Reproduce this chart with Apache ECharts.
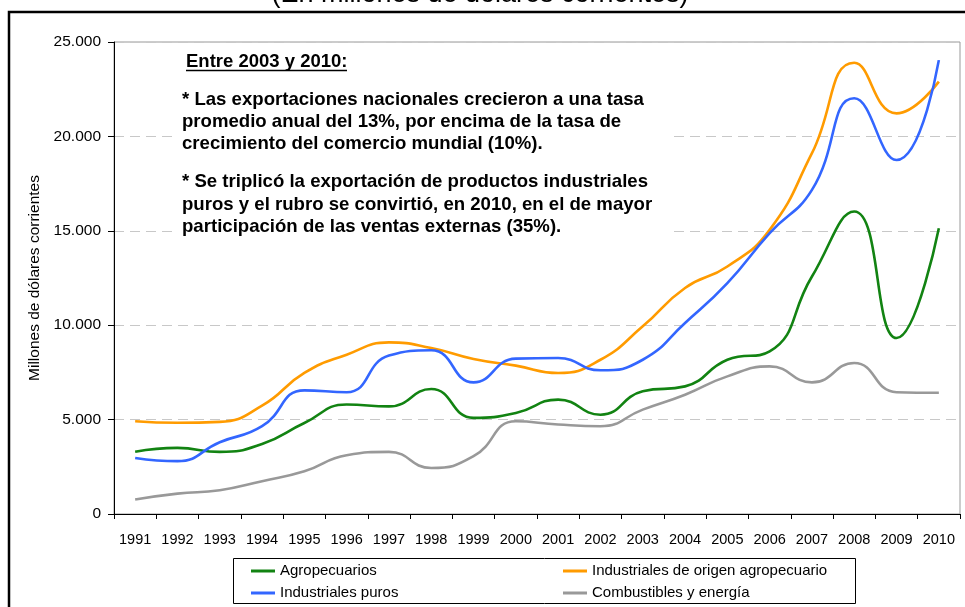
<!DOCTYPE html>
<html>
<head>
<meta charset="utf-8">
<script src="https://cdn.jsdelivr.net/npm/echarts@6/dist/echarts.min.js"></script>
<style>
    html, body { margin: 0; padding: 0; background: #fff; }
    #chart { width: 965px; height: 607px; }
</style>
</head>
<body>
<div id="chart"></div>
<script>
// años y exportaciones por rubro (millones de dólares corrientes)
let years = ['1991', '1992', '1993', '1994', '1995', '1996', '1997', '1998', '1999', '2000',
    '2001', '2002', '2003', '2004', '2005', '2006', '2007', '2008', '2009', '2010'];
let agropecuarios = [3300, 3500, 3290, 3710, 4820, 5800, 5700, 6620, 5090, 5350,
    6060, 5260, 6500, 6760, 8170, 8610, 12580, 16020, 9320, 15140];
let industrialesAgro = [4910, 4830, 4880, 5740, 7470, 8440, 9090, 8790, 8210, 7860,
    7470, 8170, 9940, 11970, 13110, 15050, 19110, 23900, 21220, 22900];
let industrialesPuros = [2970, 2800, 3800, 4650, 6550, 6450, 8390, 8670, 6970, 8230,
    8260, 7610, 8170, 10120, 12230, 14880, 17170, 22020, 18750, 24040];
let combustibles = [770, 1080, 1260, 1740, 2260, 3110, 3290, 2440, 3060, 4910,
    4740, 4650, 5530, 6320, 7290, 7820, 6970, 8000, 6450, 6420];
let yTicks = [0, 5000, 10000, 15000, 20000, 25000];

let font = "'Liberation Sans', Arial, sans-serif";
let notes = [
    {text: '* Las exportaciones nacionales crecieron a una tasa', y: 100},
    {text: 'promedio anual del 13%, por encima de la tasa de', y: 122},
    {text: 'crecimiento del comercio mundial (10%).', y: 144},
    {text: '* Se triplicó la exportación de productos industriales', y: 182},
    {text: 'puros y el rubro se convirtió, en 2010, en el de mayor', y: 205},
    {text: 'participación de las ventas externas (35%).', y: 227}
];

function fmt(v) {
    return String(v).replace(/\B(?=(\d{3})+(?!\d))/g, '.');
}

let chart = echarts.init(document.getElementById('chart'));

let graphics = [
    // marco exterior
    {type: 'rect', shape: {x: 9, y: 12, width: 980, height: 620},
        style: {fill: 'none', stroke: '#000', lineWidth: 2.5}, z: 10},
    {type: 'text', x: 480, y: 8, z: 10,
        style: {text: '(En millones de dólares corrientes)', font: '27px ' + font,
            fill: '#000', align: 'center', verticalAlign: 'bottom'}},
    // fondo blanco del cuadro de texto
    {type: 'rect', shape: {x: 178, y: 47, width: 494, height: 195},
        style: {fill: '#fff'}, z: 1},
    {type: 'text', x: 186, y: 62, z: 5,
        style: {text: 'Entre 2003 y 2010:', font: 'bold 18.5px ' + font,
            fill: '#000', verticalAlign: 'middle'}},
    {type: 'line', shape: {x1: 186, y1: 70.5, x2: 347, y2: 70.5}, z: 5,
        style: {stroke: '#000', lineWidth: 1.6}},
    // recuadro de la leyenda
    {type: 'rect', shape: {x: 233.5, y: 558.5, width: 622, height: 45},
        style: {fill: 'none', stroke: '#000', lineWidth: 1}, z: 1}
];
notes.forEach(n => {
    graphics.push({type: 'text', x: 182, y: n.y, z: 5,
        style: {text: n.text, font: 'bold 18.6px ' + font, fill: '#000', verticalAlign: 'middle'}});
});

let legendCommon = {
    orient: 'vertical',
    padding: 0,
    itemGap: 0,
    itemWidth: 24,
    itemHeight: 3,
    icon: 'rect',
    top: 560,
    textStyle: {fontFamily: font, fontSize: 15, color: '#000', lineHeight: 22}
};

function lineSeries(name, data, color) {
    return {
        name: name,
        type: 'line',
        data: data,
        smooth: 0.5,
        symbol: 'none',
        lineStyle: {width: 2.6, color: color},
        itemStyle: {color: color},
        z: 3
    };
}

let option = {
    backgroundColor: '#fff',
    animation: false,
    grid: {
        left: 114, right: 5, top: 42, bottom: 93,
        show: true, borderColor: '#999', borderWidth: 1
    },
    legend: [
        Object.assign({}, legendCommon, {left: 251, data: ['Agropecuarios', 'Industriales puros']}),
        Object.assign({}, legendCommon, {left: 563, data: ['Industriales de origen agropecuario', 'Combustibles y energía']})
    ],
    xAxis: {
        type: 'category',
        data: years,
        boundaryGap: true,
        axisLine: {lineStyle: {color: '#000', width: 1}},
        axisTick: {show: true, length: 5, interval: 0, lineStyle: {color: '#000'}},
        axisLabel: {interval: 0, margin: 18, color: '#000', fontSize: 14.5, fontFamily: font}
    },
    yAxis: {
        type: 'value',
        min: yTicks[0],
        max: yTicks[yTicks.length - 1],
        interval: 5000,
        name: 'Millones de dólares corrientes',
        nameLocation: 'middle',
        nameGap: 68,
        nameTextStyle: {color: '#000', fontSize: 15.5, fontFamily: font},
        axisLine: {show: true, lineStyle: {color: '#000', width: 1}},
        axisTick: {show: true, length: 6, lineStyle: {color: '#000'}},
        axisLabel: {margin: 13, color: '#000', fontSize: 15.5, fontFamily: font, formatter: fmt},
        splitLine: {show: true, lineStyle: {color: '#c8c8c8', type: [10, 6], width: 1}}
    },
    graphic: graphics,
    series: [
        lineSeries('Agropecuarios', agropecuarios, '#128312'),
        lineSeries('Industriales de origen agropecuario', industrialesAgro, '#FF9B00'),
        lineSeries('Industriales puros', industrialesPuros, '#3366FF'),
        lineSeries('Combustibles y energía', combustibles, '#999999')
    ]
};
chart.setOption(option);
</script>
</body>
</html>
